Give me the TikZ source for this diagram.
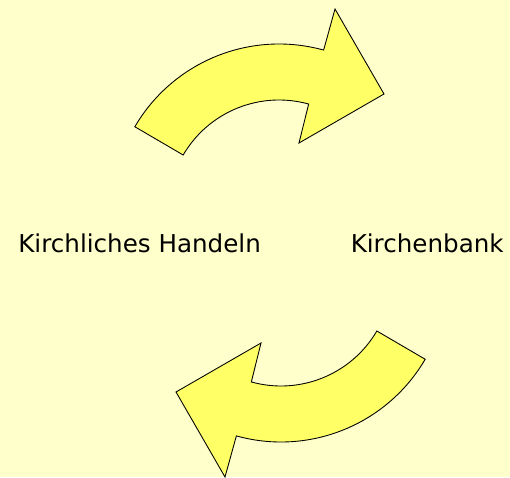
\documentclass[tikz,border=0pt]{standalone}
\usepackage{fontspec}
\setmainfont{DejaVu Sans}
\usetikzlibrary{positioning, calc}
\definecolor{paper}{RGB}{255,255,204}
\definecolor{lemon}{RGB}{255,255,102}

\begin{document}
\begin{tikzpicture}[
    x=0.02cm, y=0.02cm,
    bent_arrow/.style={
        draw=black,
        fill=lemon,
        line width=0.5pt,
        line join=miter,
        },
    label_text/.style={
        inner sep=0pt,
        font=\fontsize{14}{16}\selectfont,
        },
    ]
    \fill[paper] (0,0) rectangle (510,477);
    \useasboundingbox (0,0) rectangle (510,477);

    % upper arrow, pointing right
    \coordinate (c_up) at (279,266);
    \draw[bent_arrow] (c_up) ++(149.7:167)
        arc[start angle=149.7, end angle=74.5, radius=167]
        -- (335,468) -- (384,383) -- (299,334)
        -- ($(c_up)+(74.5:111)$)
        arc[start angle=74.5, end angle=149.7, radius=111]
        -- cycle;

    % lower arrow, the same turned round
    \begin{scope}[rotate around={180:(280,234)}]
    \coordinate (c_low) at (279,266);
    \draw[bent_arrow] (c_low) ++(149.7:167)
        arc[start angle=149.7, end angle=74.5, radius=167]
        -- (335,468) -- (384,383) -- (299,334)
        -- ($(c_low)+(74.5:111)$)
        arc[start angle=74.5, end angle=149.7, radius=111]
        -- cycle;
    \end{scope}

    \node[label_text, anchor=base west] (n_handeln) at (18,225) {Kirchliches Handeln};
    \node[label_text, anchor=base east] (n_bank) at (504,225) {Kirchenbank};

\end{tikzpicture}
\end{document}
